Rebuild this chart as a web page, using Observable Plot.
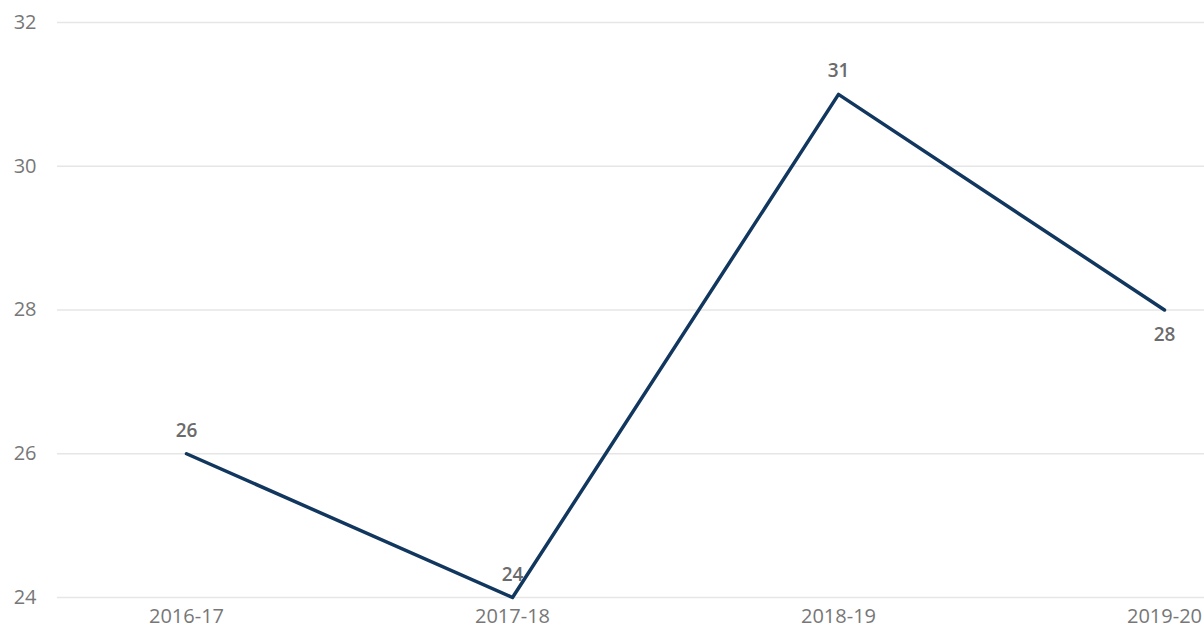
<!DOCTYPE html>
<html>
<head>
<meta charset="utf-8">
<script src="https://cdn.jsdelivr.net/npm/d3@7"></script>
<script src="https://cdn.jsdelivr.net/npm/@observablehq/plot@0.6"></script>
<style>
  html, body { margin: 0; padding: 0; background: #fff; }
  #chart svg { display: block; }
</style>
</head>
<body>
<div id="chart"></div>
<script>
const seasons = ["2016-17", "2017-18", "2018-19", "2019-20"];
const values = [26, 24, 31, 28];
const labelAbove = [true, true, true, false];
const yTicks = [24, 26, 28, 30, 32];

const data = seasons.map((s, i) => ({season: s, value: values[i], above: labelAbove[i]}));

const chart = Plot.plot({
  width: 1204,
  height: 629,
  marginLeft: 57,
  marginRight: 0,
  marginTop: 22,
  marginBottom: 32,
  style: {fontFamily: "'Open Sans', sans-serif", fontSize: "20px", color: "#777", background: "#fff"},
  x: {type: "point", domain: seasons, range: [185, 1164], padding: 0, label: null},
  y: {domain: [24, 32], label: null, ticks: yTicks, tickFormat: "d"},
  marks: [
    Plot.gridY(yTicks, {stroke: "#e6e6e6", strokeOpacity: 1, strokeWidth: 1.5}),
    Plot.axisY(yTicks, {tickSize: 0, tickPadding: 21, fill: "#777", fontSize: 20, tickFormat: "d", label: null}),
    Plot.axisX({tickSize: 0, tickPadding: 11, fill: "#777", fontSize: 20, label: null}),
    Plot.line(data, {x: "season", y: "value", stroke: "#12375f", strokeWidth: 3.5}),
    Plot.text(data.filter(d => d.above), {x: "season", y: "value", text: d => String(d.value), dy: -23, fill: "#6b6b6b", fontSize: 19, fontWeight: 600}),
    Plot.text(data.filter(d => !d.above), {x: "season", y: "value", text: d => String(d.value), dy: 25, fill: "#6b6b6b", fontSize: 19, fontWeight: 600})
  ]
});
document.getElementById("chart").appendChild(chart);
</script>
</body>
</html>
